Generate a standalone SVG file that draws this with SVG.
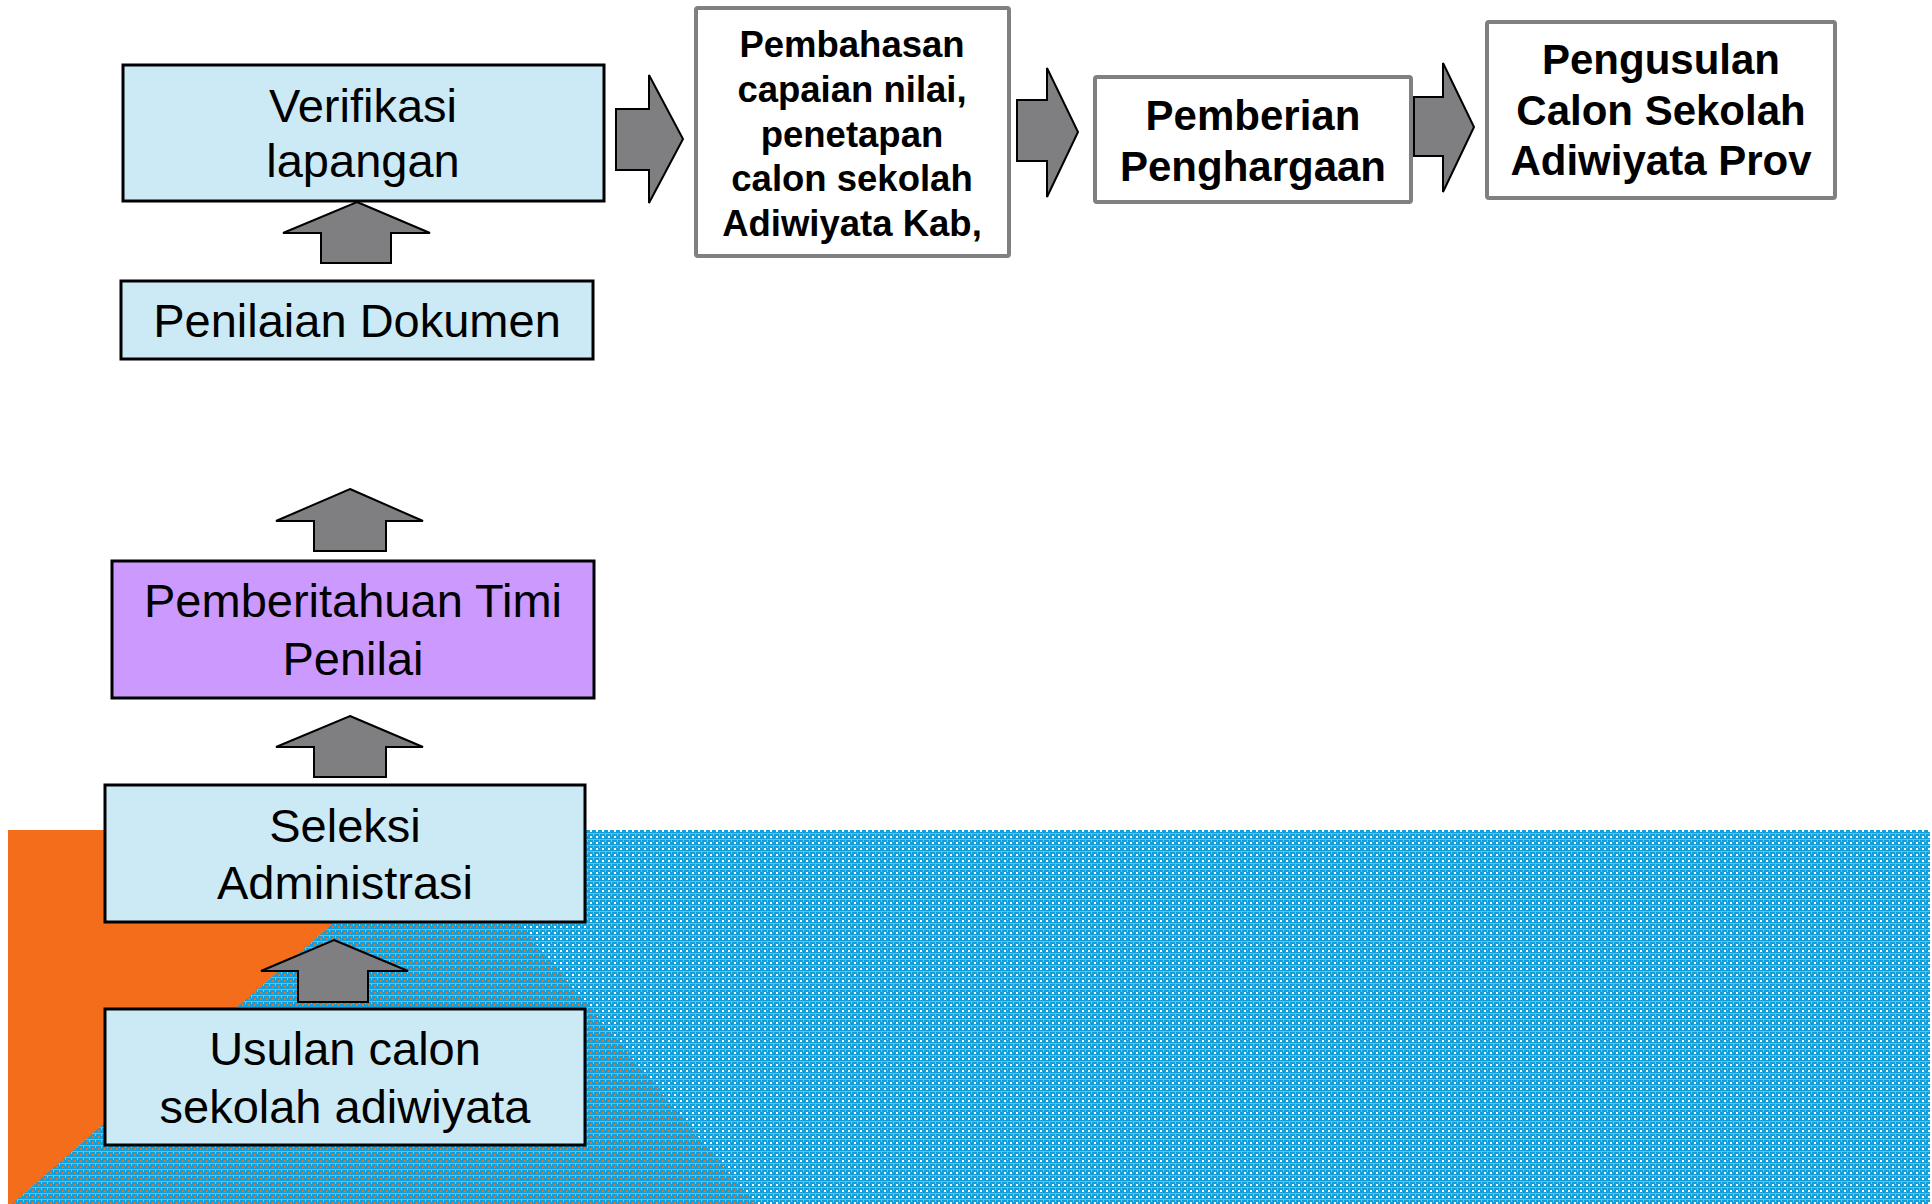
<svg xmlns="http://www.w3.org/2000/svg" width="1932" height="1204" viewBox="0 0 1932 1204">
<style>
.lb{fill:#cceaf6;stroke:#000;stroke-width:3}
.lv{fill:#cc99ff;stroke:#000;stroke-width:3}
.rb{fill:#fff;stroke:#808083;stroke-width:4}
.t{font-family:"Liberation Sans",Arial,sans-serif;font-size:47px;fill:#000;text-anchor:middle}
.tb{font-family:"Liberation Sans",Arial,sans-serif;font-weight:bold;fill:#000;text-anchor:middle}
.ar{fill:#7f7f82;stroke:#000;stroke-width:2;stroke-linejoin:miter}
</style>
<defs>
<pattern id="plaid" width="6" height="6" patternUnits="userSpaceOnUse">
<path d="M0 0h6v6h-6z M2 2v2h2v-2z" fill="#129fda" fill-rule="evenodd"/>
<rect x="0" y="5" width="6" height="1" fill="#5cc0ea"/>
<rect x="5" y="0" width="1" height="2" fill="#6cc8ee"/>
</pattern>
</defs>
<rect width="1932" height="1204" fill="#fff"/>
<g id="background">
<polygon points="8,830 440,830 755,1204 8,1204" fill="#f46d1b"/>
<polygon points="440,830 1930,830 1930,1204 12,1204" fill="url(#plaid)"/>
</g>
<g id="connectors">
<polygon class="ar" points="357,202 430,233 391,233 391,263 321,263 321,233 283,233"/>
<polygon class="ar" points="350,489 423,521 386,521 386,551 314,551 314,521 276,521"/>
<polygon class="ar" points="350,716 423,747 386,747 386,777 314,777 314,747 276,747"/>
<polygon class="ar" points="334,940 408,971 368,971 368,1002 298,1002 298,971 261,971"/>
<polygon class="ar" points="683,139 649,203 649,170 616,170 616,109 649,109 649,75"/>
<polygon class="ar" points="1078,132 1047,197 1047,161 1017,161 1017,100 1047,100 1047,68"/>
<polygon class="ar" points="1474,127 1443,192 1443,156 1414,156 1414,97 1443,97 1443,63"/>
</g>
<g id="verifikasi">
<rect class="lb" x="123" y="65" width="481" height="136"/>
<text class="t" x="363" y="122">Verifikasi</text>
<text class="t" x="363" y="177">lapangan</text>
</g>
<g id="penilaian">
<rect class="lb" x="121" y="281" width="472" height="78"/>
<text class="t" x="357" y="337">Penilaian Dokumen</text>
</g>
<g id="pemberitahuan">
<rect class="lv" x="112" y="561" width="482" height="137"/>
<text class="t" x="353" y="617">Pemberitahuan Timi</text>
<text class="t" x="353" y="675">Penilai</text>
</g>
<g id="seleksi">
<rect class="lb" x="105" y="785" width="480" height="137"/>
<text class="t" x="345" y="842">Seleksi</text>
<text class="t" x="345" y="899">Administrasi</text>
</g>
<g id="usulan">
<rect class="lb" x="105" y="1009" width="480" height="136"/>
<text class="t" x="345" y="1065">Usulan calon</text>
<text class="t" x="345" y="1123">sekolah adiwiyata</text>
</g>
<g id="pembahasan">
<rect class="rb" x="696" y="8" width="313" height="248" rx="2"/>
<text class="tb" font-size="36.5" x="852" y="57">Pembahasan</text>
<text class="tb" font-size="36.5" x="852" y="102">capaian nilai,</text>
<text class="tb" font-size="36.5" x="852" y="147">penetapan</text>
<text class="tb" font-size="36.5" x="852" y="191">calon sekolah</text>
<text class="tb" font-size="36.5" x="852" y="236">Adiwiyata Kab,</text>
</g>
<g id="pemberian">
<rect class="rb" x="1095" y="77" width="316" height="125" rx="2"/>
<text class="tb" font-size="42" x="1253" y="130">Pemberian</text>
<text class="tb" font-size="42" x="1253" y="181">Penghargaan</text>
</g>
<g id="pengusulan">
<rect class="rb" x="1487" y="22" width="348" height="176" rx="2"/>
<text class="tb" font-size="42" x="1661" y="74">Pengusulan</text>
<text class="tb" font-size="42" x="1661" y="125">Calon Sekolah</text>
<text class="tb" font-size="42" x="1661" y="175">Adiwiyata Prov</text>
</g>
</svg>
